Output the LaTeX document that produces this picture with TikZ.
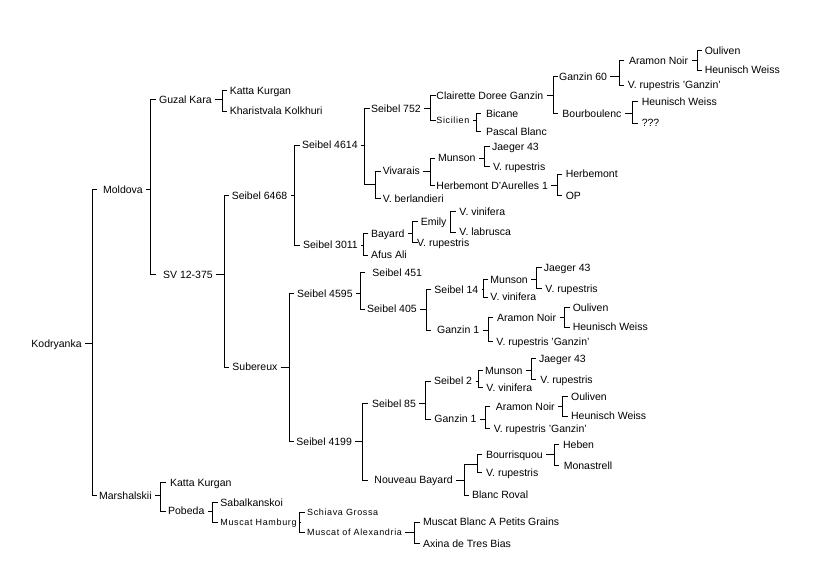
\documentclass[tikz,border=0pt]{standalone}
\usepackage{fontspec}
\setmainfont{Liberation Sans}
\newfontfamily\smallfam[LetterSpace=7]{Liberation Sans}
\newcommand\famly[4]{%
  \path (#2,0) coordinate (famv);
  \draw ([xshift=3pt]#1.east) -- (#1.east -| famv);
  \draw (#3.west -| famv) ++(5,0) -- (#3.west -| famv) -- (#4.west -| famv) -- ++(5,0);
}
\tikzset{
  lab/.style={anchor=west, inner sep=0pt, text height=7.6pt, text depth=0pt,
    font=\fontsize{10.5}{12}\selectfont},
  slab/.style={anchor=west, inner sep=0pt, text height=6.4pt, text depth=0pt,
    font=\smallfam\fontsize{9}{10}\selectfont},
}
\begin{document}
\begin{tikzpicture}[x=1pt, y=-1pt, line width=0.9pt]
\useasboundingbox[fill=white] (0,0) rectangle (815,586);
% nodes
\node[lab] (kod) at (31,343.3) {Kodryanka};
\node[lab] (mol) at (102.7,189.3) {Moldova};
\node[lab] (mar) at (98.7,495.7) {Marshalskii};
\node[lab] (guz) at (158.7,99.3) {Guzal Kara};
\node[lab] (sv) at (162.7,274.3) {SV 12-375};
\node[lab] (kk1) at (229.3,90.3) {Katta Kurgan};
\node[lab] (kha) at (229.3,111) {Kharistvala Kolkhuri};
\node[lab] (s6468) at (231.3,195.7) {Seibel 6468};
\node[lab] (sub) at (232,367) {Subereux};
\node[lab] (s4614) at (301.7,145) {Seibel 4614};
\node[lab] (s3011) at (302.7,245) {Seibel 3011};
\node[lab] (s752) at (370.7,108.3) {Seibel 752};
\coordinate (j1) at (375.7,184.3);
\node[lab] (viv) at (382.3,171) {Vivarais};
\node[lab] (vber) at (382.3,198.3) {V. berlandieri};
\node[lab] (bay) at (370.7,233.3) {Bayard};
\node[lab] (afus) at (370.7,255) {Afus Ali};
\node[lab] (cdg) at (436,95.7) {Clairette Doree Ganzin};
\node[slab] (sic) at (436,120.7) {Sicilien};
\node[lab] (g60) at (558.7,76.3) {Ganzin 60};
\node[lab] (bou) at (562,113.3) {Bourboulenc};
\node[lab] (an1) at (628.7,60.3) {Aramon Noir};
\node[lab] (vrg1) at (627.3,85) {V. rupestris 'Ganzin'};
\node[lab] (ou1) at (704.3,50.3) {Ouliven};
\node[lab] (hw1) at (704.3,70) {Heunisch Weiss};
\node[lab] (hw2) at (641.3,101.7) {Heunisch Weiss};
\node[lab] (unk) at (641.3,123) {???};
\node[lab] (bic) at (485.7,113.3) {Bicane};
\node[lab] (pas) at (485.7,131.7) {Pascal Blanc};
\node[lab] (mun1) at (437.7,158) {Munson};
\node[lab] (hda) at (436,185.3) {Herbemont D'Aurelles 1};
\node[lab] (jae1) at (491.7,146.3) {Jaeger 43};
\node[lab] (vr1) at (492.7,166.7) {V. rupestris};
\node[lab] (her) at (565.3,174) {Herbemont};
\node[lab] (op) at (565.3,195.7) {OP};
\node[lab] (emi) at (420.3,221.3) {Emily};
\node[lab] (vr2) at (416.7,242.7) {V. rupestris};
\node[lab] (vv1) at (459,211.7) {V. vinifera};
\node[lab] (vlab) at (459,232) {V. labrusca};
\node[lab] (s4595) at (296.7,293.3) {Seibel 4595};
\node[lab] (s4199) at (296,441.7) {Seibel 4199};
\node[lab] (s451) at (372,272.3) {Seibel 451};
\node[lab] (s405) at (366.7,309) {Seibel 405};
\node[lab] (s14) at (434,289.7) {Seibel 14};
\node[lab] (g1a) at (436.7,330) {Ganzin 1};
\node[lab] (mun2) at (490,279.3) {Munson};
\node[lab] (vv2) at (490,297) {V. vinifera};
\node[lab] (jae2) at (543.3,267.3) {Jaeger 43};
\node[lab] (vr3) at (545,288.3) {V. rupestris};
\node[lab] (an2) at (496.7,317.3) {Aramon Noir};
\node[lab] (vrg2) at (496,341.3) {V. rupestris 'Ganzin'};
\node[lab] (ou2) at (572.3,307.3) {Ouliven};
\node[lab] (hw3) at (572.3,327) {Heunisch Weiss};
\node[lab] (s85) at (371.7,403.3) {Seibel 85};
\node[lab] (nb) at (374,480) {Nouveau Bayard};
\node[lab] (s2) at (433.7,381) {Seibel 2};
\node[lab] (g1b) at (434,419) {Ganzin 1};
\node[lab] (mun3) at (484.7,370.7) {Munson};
\node[lab] (vv3) at (486,387.7) {V. vinifera};
\node[lab] (jae3) at (538.7,358.3) {Jaeger 43};
\node[lab] (vr4) at (540,379.3) {V. rupestris};
\node[lab] (an3) at (495.3,406.7) {Aramon Noir};
\node[lab] (vrg3) at (493.3,428.7) {V. rupestris 'Ganzin'};
\node[lab] (ou3) at (570.7,396.3) {Ouliven};
\node[lab] (hw4) at (570.7,416) {Heunisch Weiss};
\coordinate (j2) at (477.3,464);
\node[lab] (bour) at (485.7,454.3) {Bourrisquou};
\node[lab] (vr5) at (485.7,472.7) {V. rupestris};
\node[lab] (br) at (471.7,495) {Blanc Roval};
\node[lab] (heb) at (562.7,444.3) {Heben};
\node[lab] (mon) at (563.3,465.7) {Monastrell};
\node[lab] (kk2) at (169.7,482.7) {Katta Kurgan};
\node[lab] (pob) at (167.7,511) {Pobeda};
\node[lab] (sab) at (220,502.3) {Sabalkanskoi};
\node[slab] (mh) at (220,522.7) {Muscat Hamburg};
\node[slab] (sg) at (306.7,512.7) {Schiava Grossa};
\node[slab] (moa) at (306.7,532.7) {Muscat of Alexandria};
\node[lab] (mbap) at (422.7,522) {Muscat Blanc A Petits Grains};
\node[lab] (axi) at (422.7,543.3) {Axina de Tres Bias};
% connectors
\famly{kod}{92.3}{mol}{mar}
\famly{mol}{150.7}{guz}{sv}
\famly{guz}{222.3}{kk1}{kha}
\famly{sv}{224.3}{s6468}{sub}
\famly{s6468}{294.7}{s4614}{s3011}
\path (364.7,0) coordinate (v4614);
\draw ([xshift=3pt]s4614.east) -- (s4614.east -| v4614);
\draw (s752.west -| v4614) ++(5,0) -- (s752.west -| v4614) -- (j1 -| v4614) -- (j1);
\draw (viv.west -| j1) ++(5,0) -- (viv.west -| j1) -- (vber.west -| j1) -- ++(5,0);
\famly{s3011}{363.3}{bay}{afus}
\famly{s752}{430.7}{cdg}{sic}
\famly{cdg}{553.3}{g60}{bou}
\famly{g60}{619.3}{an1}{vrg1}
\famly{an1}{697}{ou1}{hw1}
\famly{bou}{632.7}{hw2}{unk}
\famly{sic}{476}{bic}{pas}
\famly{viv}{430}{mun1}{hda}
\famly{mun1}{484.7}{jae1}{vr1}
\famly{hda}{557}{her}{op}
\famly{bay}{412.7}{emi}{vr2}
\famly{emi}{450.7}{vv1}{vlab}
\famly{sub}{289.3}{s4595}{s4199}
\famly{s4595}{360.3}{s451}{s405}
\famly{s405}{426.3}{s14}{g1a}
\famly{s14}{483.3}{mun2}{vv2}
\famly{mun2}{536.7}{jae2}{vr3}
\famly{g1a}{488}{an2}{vrg2}
\famly{an2}{564.7}{ou2}{hw3}
\famly{s4199}{362.7}{s85}{nb}
\famly{s85}{425.7}{s2}{g1b}
\famly{s2}{478}{mun3}{vv3}
\famly{mun3}{531}{jae3}{vr4}
\famly{g1b}{485.3}{an3}{vrg3}
\famly{an3}{562.7}{ou3}{hw4}
\path (464,0) coordinate (vnb);
\draw ([xshift=3pt]nb.east) -- (nb.east -| vnb);
\draw (j2) -- (j2 -| vnb) -- (br.west -| vnb) -- ++(5,0);
\draw (bour.west -| j2) ++(5,0) -- (bour.west -| j2) -- (vr5.west -| j2) -- ++(5,0);
\famly{bour}{554.3}{heb}{mon}
\famly{mar}{160.7}{kk2}{pob}
\famly{pob}{212.7}{sab}{mh}
\famly{mh}{299.7}{sg}{moa}
\famly{moa}{414.7}{mbap}{axi}
\end{tikzpicture}
\end{document}
